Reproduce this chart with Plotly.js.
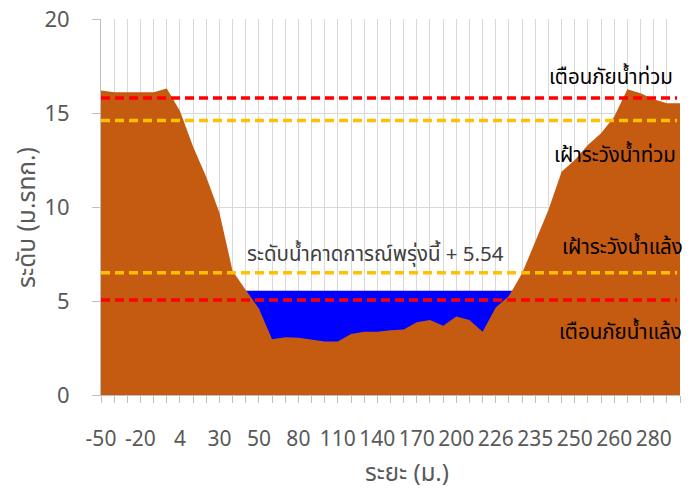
<!DOCTYPE html>
<html>
<head>
<meta charset="utf-8">
<script src="https://cdn.plot.ly/plotly-3.0.1.min.js"></script>
<style>html,body{margin:0;padding:0;background:#fff;}#chart{width:693px;height:495px;}</style>
</head>
<body>
<div id="chart"></div>
<script>
// Distance categories (m)
var distances = [-50,-40,-30,-20,-10,0,4,10,20,30,35,40,50,60,70,80,90,100,110,120,130,140,150,160,170,180,190,200,210,220,226,228,230,235,240,245,250,253,256,260,265,270,280,290,300];
// Labels shown on the axis
var shownLabels = [-50,-20,4,30,50,80,110,140,170,200,226,235,250,260,280];
// Ground elevation (m MSL)
var ground = [16.2,16.1,16.1,16.1,16.1,16.3,15.1,13.2,11.6,9.7,6.6,5.58,4.6,2.96,3.07,3.05,2.96,2.84,2.84,3.24,3.37,3.37,3.45,3.49,3.87,3.99,3.69,4.17,3.99,3.37,4.66,5.27,6.47,8.16,9.84,11.88,12.5,13.3,13.92,14.8,16.26,16.05,15.73,15.52,15.52];
// Forecast water level for tomorrow
var forecastLevel = 5.54;
// Threshold levels
var floodWarning = 15.8;
var floodWatch = 14.6;
var droughtWatch = 6.5;
var droughtWarning = 5.05;

var cats = distances.map(String);
var water = cats.map(function(){ return forecastLevel; });
var tickText = distances.map(function(d){ return shownLabels.indexOf(d) >= 0 ? String(d) : ''; });

var FONT = 'Tahoma, "Noto Sans Thai", "Noto Sans", "DejaVu Sans", sans-serif';

var traces = [
  {x: cats, y: water, type: 'scatter', mode: 'lines', fill: 'tozeroy',
   line: {width: 0, color: '#0000FF'}, fillcolor: '#0000FF', hoverinfo: 'skip'},
  {x: cats, y: ground, type: 'scatter', mode: 'lines', fill: 'tozeroy',
   line: {width: 0, color: '#C55A11'}, fillcolor: '#C55A11', hoverinfo: 'skip'}
];

function hline(y, color) {
  return {type: 'line', xref: 'paper', yref: 'y', x0: 0, x1: 0.995, y0: y, y1: y,
          layer: 'above', line: {color: color, width: 3.5, dash: '9px,5px'}};
}

var layout = {
  width: 693, height: 495,
  margin: {l: 101, r: 13, t: 19, b: 100},
  paper_bgcolor: '#ffffff', plot_bgcolor: '#ffffff',
  showlegend: false,
  font: {family: FONT, color: '#595959', size: 19},
  xaxis: {
    type: 'category', categoryorder: 'array', categoryarray: cats,
    range: [0, cats.length - 1],
    tickmode: 'array', tickvals: cats, ticktext: tickText,
    showgrid: true, gridcolor: '#d9d9d9', gridwidth: 1,
    showline: true, linecolor: '#bfbfbf', linewidth: 1,
    ticks: 'outside', ticklen: 7, tickcolor: '#bfbfbf',
    tickangle: 0, ticklabelstandoff: 18,
    tickfont: {family: FONT, size: 21, color: '#595959'},
    zeroline: false, fixedrange: true
  },
  yaxis: {
    range: [0, 20], tickvals: [0,5,10,15,20],
    showgrid: true, gridcolor: '#d9d9d9', gridwidth: 1,
    showline: true, linecolor: '#bfbfbf', linewidth: 1,
    ticks: 'outside', ticklen: 8, tickcolor: '#bfbfbf',
    ticklabelstandoff: 18,
    tickfont: {family: FONT, size: 22, color: '#595959'},
    zeroline: false, fixedrange: true
  },
  shapes: [hline(floodWarning, '#FF0000'), hline(floodWatch, '#FFC000'),
           hline(droughtWatch, '#FFC000'), hline(droughtWarning, '#FF0000')],
  annotations: [
    {xref: 'paper', yref: 'paper', x: (611-101)/579, y: (395-77)/376, text: 'เตือนภัยน้ำท่วม',
     showarrow: false, xanchor: 'center', yanchor: 'middle', font: {family: FONT, size: 20.5, color: '#000000'}},
    {xref: 'paper', yref: 'paper', x: (615-101)/579, y: (395-155)/376, text: 'เฝ้าระวังน้ำท่วม',
     showarrow: false, xanchor: 'center', yanchor: 'middle', font: {family: FONT, size: 20.5, color: '#000000'}},
    {xref: 'paper', yref: 'paper', x: (622-101)/579, y: (395-247)/376, text: 'เฝ้าระวังน้ำแล้ง',
     showarrow: false, xanchor: 'center', yanchor: 'middle', font: {family: FONT, size: 20.5, color: '#000000'}},
    {xref: 'paper', yref: 'paper', x: (620-101)/579, y: (395-332)/376, text: 'เตือนภัยน้ำแล้ง',
     showarrow: false, xanchor: 'center', yanchor: 'middle', font: {family: FONT, size: 20.5, color: '#000000'}},
    {xref: 'paper', yref: 'paper', x: (375-101)/579, y: (395-254)/376, text: 'ระดับน้ำคาดการณ์พรุ่งนี้ + ' + forecastLevel.toFixed(2),
     showarrow: false, xanchor: 'center', yanchor: 'middle', font: {family: FONT, size: 20.5, color: '#404040'}},
    {xref: 'paper', yref: 'paper', x: (407-101)/579, y: (395-474)/376, text: 'ระยะ (ม.)',
     showarrow: false, xanchor: 'center', yanchor: 'middle', font: {family: FONT, size: 24, color: '#595959'}},
    {xref: 'paper', yref: 'paper', x: (27-101)/579, y: (395-218)/376, text: 'ระดับ (ม.รทก.)', textangle: -90,
     showarrow: false, xanchor: 'center', yanchor: 'middle', font: {family: FONT, size: 24.5, color: '#595959'}}
  ]
};

Plotly.newPlot('chart', traces, layout, {staticPlot: true, displayModeBar: false});
</script>
</body>
</html>
